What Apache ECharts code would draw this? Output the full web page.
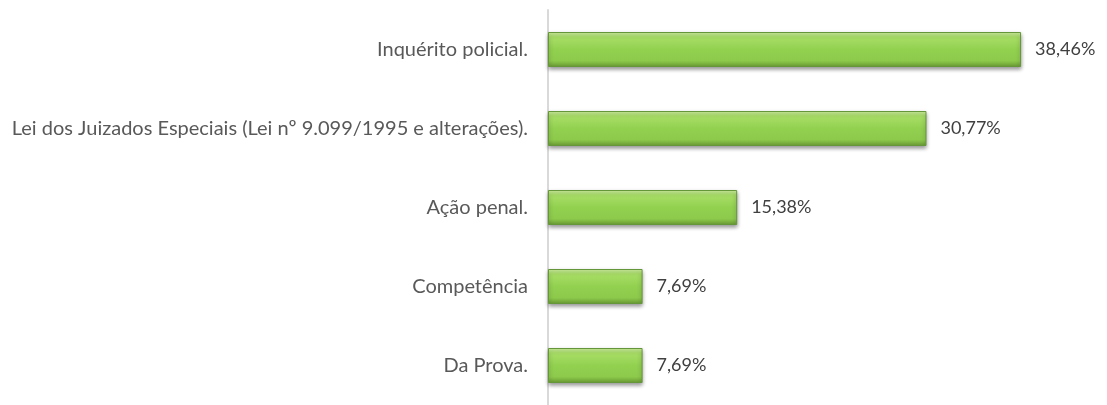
<!DOCTYPE html>
<html lang="pt">
<head>
    <meta charset="UTF-8">
    <script src="https://cdn.jsdelivr.net/npm/echarts@6.0.0/dist/echarts.min.js"></script>
    <title>Assuntos</title>
    <style>
        html, body { margin: 0; padding: 0; background: #fff; }
    </style>
</head>
<body>
    <div id="main" style="width: 1107px;height:405px;"></div>
    <script type="text/javascript">
        // categories from bottom to top (category axis on y runs upward)
        const categories = ['Da Prova.', 'Competência', 'Ação penal.',
            'Lei dos Juizados Especiais (Lei nº 9.099/1995 e alterações).', 'Inquérito policial.'];
        const percentages = [7.69, 7.69, 15.38, 30.77, 38.46];

        let myChart = echarts.init(document.getElementById('main'));

        const barFill = new echarts.graphic.LinearGradient(0, 0, 0, 1, [
            { offset: 0, color: '#d2f2a4' },
            { offset: 0.15, color: '#a8de66' },
            { offset: 0.5, color: '#92d050' },
            { offset: 0.82, color: '#8dca4c' },
            { offset: 1, color: '#6a9a34' }
        ]);

        let options = {
            grid: { left: 548, top: 10, width: 492, bottom: 0 },
            xAxis: {
                type: 'value',
                min: 0,
                max: 40,
                show: false
            },
            yAxis: {
                type: 'category',
                data: categories,
                axisLine: { show: true, lineStyle: { color: '#d9d9d9', width: 2 } },
                axisTick: { show: false },
                axisLabel: {
                    fontFamily: 'Lato',
                    fontSize: 20,
                    color: '#595959',
                    margin: 20
                }
            },
            series: [{
                type: 'bar',
                data: percentages,
                barWidth: 35,
                itemStyle: {
                    color: barFill,
                    borderColor: '#66963a',
                    borderWidth: 1,
                    shadowColor: 'rgba(0,0,0,0.4)',
                    shadowBlur: 4,
                    shadowOffsetY: 2
                },
                label: {
                    show: true,
                    position: 'right',
                    distance: 14,
                    fontFamily: 'Lato',
                    fontSize: 18,
                    color: '#404040',
                    formatter: (p) => p.value.toFixed(2).replace('.', ',') + '%'
                }
            }]
        };
        myChart.setOption(options);
    </script>
</body>
</html>
